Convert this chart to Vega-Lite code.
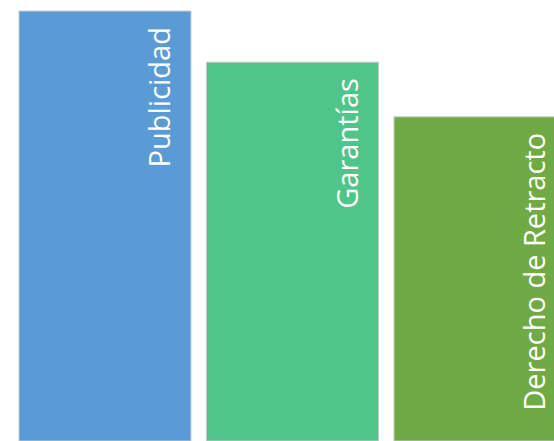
{
  "$schema": "https://vega.github.io/schema/vega-lite/v6.json",
  "width": 554,
  "height": 441,
  "autosize": "none",
  "padding": 0,
  "background": "white",
  "config": {"view": {"stroke": null}},
  "data": {"values": [
    {"categoria": "Publicidad", "valor": 97.5, "etiqueta": "Publicidad"},
    {"categoria": "Garantías", "valor": 85.9, "etiqueta": "Garantías"},
    {"categoria": "Derecho de Retracto", "valor": 73.5, "etiqueta": "Derecho de Retracto"}
  ]},
  "encoding": {
    "x": {"field": "categoria", "type": "nominal", "sort": null, "axis": null,
          "scale": {"range": [19, 566], "paddingInner": 0.0827, "paddingOuter": 0}},
    "y": {"field": "valor", "type": "quantitative", "axis": null,
          "scale": {"domain": [0, 100], "nice": false, "zero": true}}
  },
  "layer": [
    {
      "mark": {"type": "bar", "clip": true, "stroke": "#c9c9c9", "strokeWidth": 1},
      "encoding": {
        "color": {"field": "categoria", "type": "nominal", "sort": null, "legend": null,
                  "scale": {"domain": ["Publicidad", "Garantías", "Derecho de Retracto"],
                            "range": ["#5B9BD5", "#4FC58A", "#6FAA45"]}}
      }
    },
    {
      "mark": {"type": "text", "angle": 270, "align": "right", "baseline": "alphabetic",
               "dx": -16, "font": "Open Sans", "fontSize": 29, "color": "#ffffff", "clip": true},
      "encoding": {
        "x": {"field": "categoria", "type": "nominal", "sort": null, "bandPosition": 0.878},
        "text": {"field": "etiqueta"}
      }
    }
  ]
}
